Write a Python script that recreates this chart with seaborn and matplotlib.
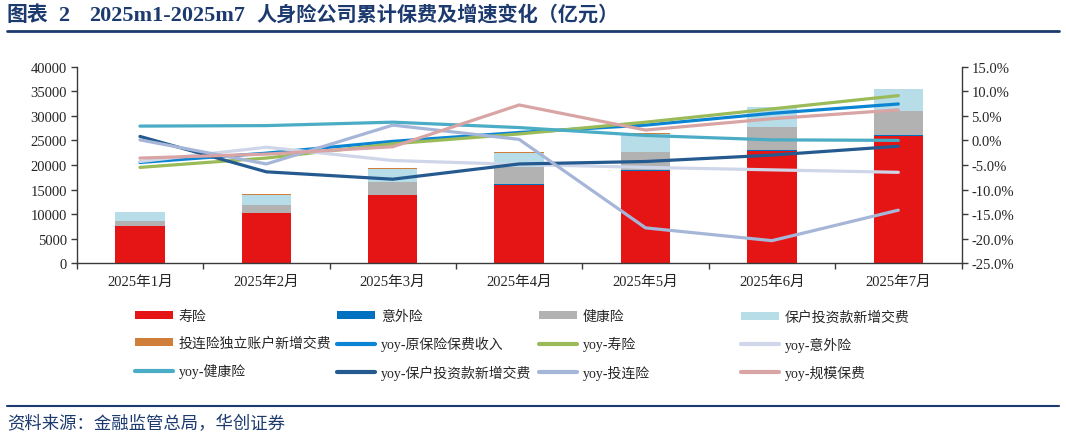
import numpy as np
import pandas as pd
import seaborn as sns
import matplotlib.pyplot as plt
from matplotlib.patches import Patch
from matplotlib.lines import Line2D
from matplotlib.ticker import FuncFormatter

sns.set_theme(style='white')
plt.rcParams['font.family'] = ['Liberation Serif', 'Noto Sans CJK SC']

months = ['2025年1月', '2025年2月', '2025年3月', '2025年4月', '2025年5月', '2025年6月', '2025年7月']

# cumulative premiums (亿元)
life = [7600, 10150, 13850, 15950, 18800, 22850, 25800]
accident = [60, 90, 120, 140, 170, 200, 230]
health = [1010, 1700, 2630, 3440, 3740, 4610, 4960]
investment = [1700, 2040, 2590, 2970, 3590, 4080, 4410]
unit_linked = [80, 100, 110, 110, 120, 130, 130]

# yoy growth (%)
yoy_total = [-4.5, -2.6, -0.2, 1.6, 3.1, 5.5, 7.4]
yoy_life = [-5.5, -3.6, -0.7, 1.3, 3.7, 6.4, 9.1]
yoy_accident = [-4.3, -1.4, -4.1, -4.9, -5.5, -6.0, -6.5]
yoy_health = [2.9, 3.0, 3.7, 2.6, 1.0, 0.1, 0.0]
yoy_invest = [0.8, -6.4, -7.9, -4.8, -4.3, -3.0, -1.2]
yoy_unit = [0.1, -4.8, 3.1, 0.2, -17.8, -20.4, -14.2]
yoy_scale = [-3.6, -2.8, -1.3, 7.2, 2.1, 4.4, 6.2]

bar_series = [('寿险', life, '#e51515'), ('意外险', accident, '#0070c0'),
              ('健康险', health, '#b2b2b2'), ('保户投资款新增交费', investment, '#b6dde8'),
              ('投连险独立账户新增交费', unit_linked, '#d07f3a')]
line_series = [('yoy-原保险保费收入', yoy_total, '#0b85d3'), ('yoy-寿险', yoy_life, '#9bbb59'),
               ('yoy-意外险', yoy_accident, '#cfd6e9'), ('yoy-健康险', yoy_health, '#4bacc6'),
               ('yoy-保户投资款新增交费', yoy_invest, '#245a8f'), ('yoy-投连险', yoy_unit, '#a6b6d8'),
               ('yoy-规模保费', yoy_scale, '#d9a4a4')]

fig = plt.figure(figsize=(10.66, 4.39), dpi=100)
ax = fig.add_axes([0.072, 0.398, 0.830, 0.448])

df = pd.DataFrame({'month': months})
bottom = np.zeros(len(months))
for name, vals, color in bar_series:
    sns.barplot(x=df['month'], y=vals, color=color, width=0.39, bottom=bottom,
                ax=ax, linewidth=0, saturation=1)
    bottom = bottom + np.array(vals)

ax.set_ylim(0, 40000)
ax.set_yticks(range(0, 40001, 5000))
ax.set_xlim(-0.5, 6.5)
ax.set_xlabel('')
ax.set_ylabel('')

ax2 = ax.twinx()
xpos = np.arange(len(months))
for name, vals, color in line_series:
    sns.lineplot(x=xpos, y=vals, color=color, linewidth=2.3, ax=ax2, sort=False)
ax2.set_ylim(-25, 15)
ax2.set_yticks(range(-25, 16, 5))
ax2.yaxis.set_major_formatter(FuncFormatter(lambda v, p: f'{v:.1f}%'))
ax2.set_xlim(-0.5, 6.5)

for a in (ax, ax2):
    for s in a.spines.values():
        s.set_visible(False)
    a.grid(False)
ax.spines['left'].set_visible(True)
ax.spines['bottom'].set_visible(True)
ax2.spines['right'].set_visible(True)
for s in (ax.spines['left'], ax.spines['bottom'], ax2.spines['right']):
    s.set_color('#3a3a3a')
    s.set_linewidth(1.0)

ax.tick_params(axis='y', direction='out', length=4, width=1, color='#3a3a3a',
               labelsize=10.5, pad=3, left=True)
ax2.tick_params(axis='y', direction='out', length=4, width=1, color='#3a3a3a',
                labelsize=10.5, pad=3, right=True)
ax.set_xticks(np.arange(-0.5, 7, 1), minor=True)
ax.tick_params(axis='x', which='major', length=0, labelsize=10.5, pad=8)
ax.tick_params(axis='x', which='minor', direction='out', length=4, width=1,
               color='#3a3a3a', bottom=True)

# legend: 4 columns, 3 rows
handles = [Patch(facecolor=c, edgecolor='none', label=n) for n, v, c in bar_series]
handles += [Line2D([0], [0], color=c, linewidth=3, label=n) for n, v, c in line_series]
col_x = [135, 337, 539, 741]
for k in range(4):
    hs = handles[k::4]
    fig.legend(handles=hs, loc='upper left', bbox_to_anchor=(col_x[k] / 1066, 1 - 311 / 439),
               frameon=False, borderpad=0, borderaxespad=0,
               handlelength=2.75, handleheight=0.5, handletextpad=0.4, labelspacing=0.95,
               prop={'family': ['Liberation Serif', 'Noto Sans CJK SC'], 'size': 10})

navy = '#1d3a6f'
ty = 1 - 16 / 439
fig.text(7 / 1066, ty, '图表', fontsize=15, fontweight='bold', color=navy, va='center', ha='left')
fig.text(58 / 1066, ty, '2', fontsize=16, fontweight='bold', color=navy, va='center', ha='left')
fig.text(89 / 1066, ty, '2025m1-2025m7', fontsize=16, fontweight='bold', color=navy,
         va='center', ha='left')
fig.text(256 / 1066, ty, '人身险公司累计保费及增速变化（亿元）', fontsize=14.5, fontweight='bold',
         color=navy, va='center', ha='left')
fig.add_artist(Line2D([7 / 1066, 1059 / 1066], [1 - 32 / 439, 1 - 32 / 439], color=navy, linewidth=2))
fig.add_artist(Line2D([7 / 1066, 1059 / 1066], [1 - 407 / 439, 1 - 407 / 439], color=navy, linewidth=1.5))
fig.text(7 / 1066, 1 - 424 / 439, '资料来源：金融监管总局，华创证券', fontsize=12.5, color=navy,
         va='center', ha='left', family=['Noto Sans CJK SC'])

fig.savefig('out.png', dpi=100)
